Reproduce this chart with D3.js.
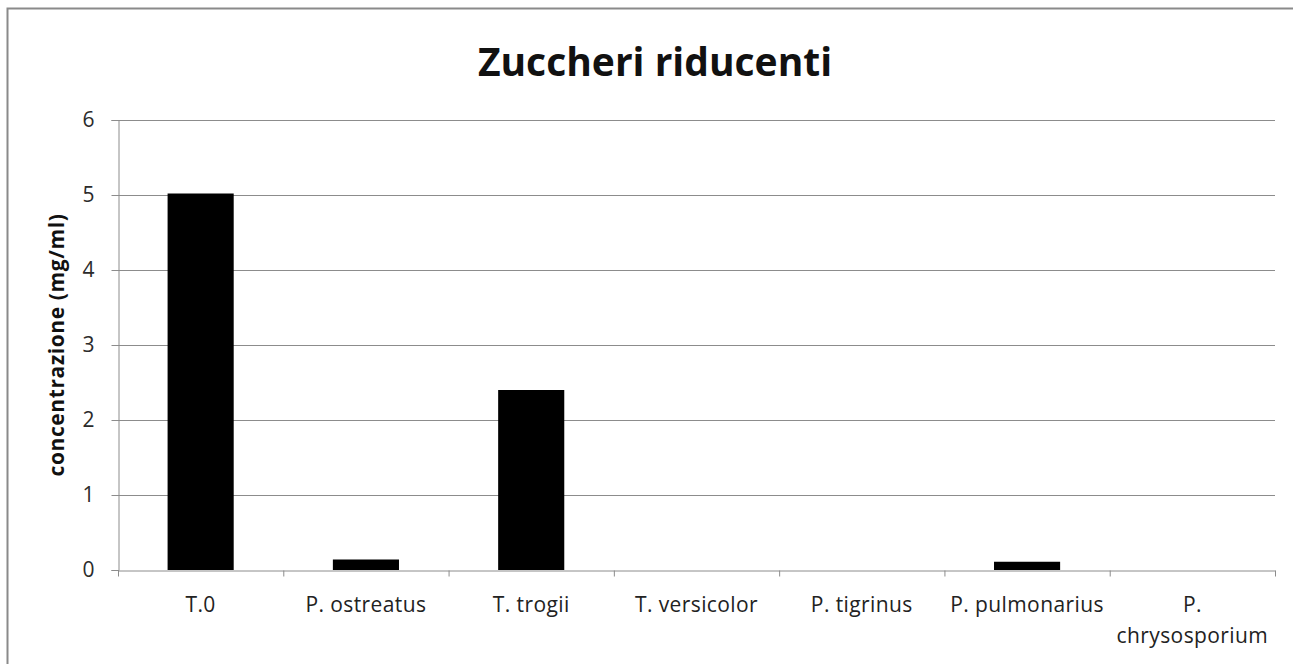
<!DOCTYPE html>
<html>
<head>
<meta charset="utf-8">
<script src="https://cdn.jsdelivr.net/npm/d3@7"></script>
<style>
  body { margin: 0; background: #fff; overflow: hidden; }
  svg { display: block; }
  text { font-family: "Open Sans", "DejaVu Sans", sans-serif; }
</style>
</head>
<body>
<div id="chart"></div>
<script>
// data
const categories = ['T.0', 'P. ostreatus', 'T. trogii', 'T. versicolor', 'P. tigrinus', 'P. pulmonarius', 'P. chrysosporium'];
const values = [5.02, 0.14, 2.4, 0, 0, 0.11, 0];
const yTicks = [0, 1, 2, 3, 4, 5, 6];

const width = 1293;
const height = 664;
const margin = {left: 118, right: 18, top: 120, bottom: 94};

const svg = d3.select('#chart').append('svg')
  .attr('width', width)
  .attr('height', height);

// outer chart frame (right and bottom edges run off the picture)
svg.append('rect')
  .attr('x', 7.5).attr('y', 8.5)
  .attr('width', width + 40).attr('height', height + 40)
  .attr('fill', 'none')
  .attr('stroke', '#8a8a8a')
  .attr('stroke-width', 2);

const x = d3.scaleBand()
  .domain(categories)
  .range([margin.left, width - margin.right])
  .paddingInner(0.6)
  .paddingOuter(0.3);

const y = d3.scaleLinear()
  .domain([0, 6])
  .range([height - margin.bottom, margin.top]);

// horizontal gridlines
svg.append('g')
  .selectAll('line')
  .data(yTicks.filter(d => d > 0))
  .join('line')
  .attr('x1', margin.left).attr('x2', width - margin.right)
  .attr('y1', d => Math.round(y(d)) + 0.5).attr('y2', d => Math.round(y(d)) + 0.5)
  .attr('stroke', '#8c8c8c');

// y axis
const yAxis = svg.append('g')
  .attr('transform', `translate(${margin.left + 0.5},0)`)
  .call(d3.axisLeft(y).tickValues(yTicks).tickSize(7).tickPadding(17).tickFormat(d3.format('d')));
yAxis.selectAll('path, line').attr('stroke', '#8c8c8c');
yAxis.selectAll('text')
  .attr('font-size', 21)
  .attr('fill', '#2b2b2b')
  .style('font-family', '"Open Sans", sans-serif');

// bars
svg.append('g')
  .selectAll('rect')
  .data(values)
  .join('rect')
  .attr('x', (d, i) => x(categories[i]))
  .attr('width', x.bandwidth())
  .attr('y', d => y(d))
  .attr('height', d => y(0) - y(d))
  .attr('fill', '#000');

// x axis: baseline + ticks at category boundaries
const xEdges = d3.scaleLinear().domain([0, categories.length]).range(x.range());
const xAxis = svg.append('g')
  .attr('transform', `translate(0,${Math.round(y(0)) + 0.5})`)
  .call(d3.axisBottom(xEdges).tickValues(d3.range(categories.length + 1)).tickSize(6).tickSizeOuter(0).tickFormat(''));
xAxis.selectAll('path, line').attr('stroke', '#8c8c8c');

// category labels, wrapped when wider than one slot
const labels = svg.append('g')
  .selectAll('text')
  .data(categories)
  .join('text')
  .attr('x', d => x(d) + x.bandwidth() / 2)
  .attr('y', y(0) + 42)
  .attr('text-anchor', 'middle')
  .attr('font-size', 21)
  .attr('letter-spacing', 0.4)
  .attr('fill', '#222');

labels.each(function(d) {
  const t = d3.select(this);
  t.text(d);
  if (this.getComputedTextLength() > x.step()) {
    const words = d.split(' ');
    t.text(null);
    words.forEach((w, i) => {
      t.append('tspan')
        .attr('x', x(d) + x.bandwidth() / 2)
        .attr('dy', i === 0 ? 0 : 31)
        .text(w);
    });
  }
});

// title
svg.append('text')
  .attr('x', 655)
  .attr('y', 76)
  .attr('text-anchor', 'middle')
  .attr('font-size', 39)
  .attr('font-weight', 'bold')
  .attr('fill', '#111')
  .text('Zuccheri riducenti');

// y axis title
svg.append('text')
  .attr('transform', `translate(64,${(y(0) + y(6)) / 2}) rotate(-90)`)
  .attr('text-anchor', 'middle')
  .attr('font-size', 21)
  .attr('letter-spacing', 0.6)
  .attr('font-weight', 'bold')
  .attr('fill', '#111')
  .text('concentrazione (mg/ml)');
</script>
</body>
</html>
